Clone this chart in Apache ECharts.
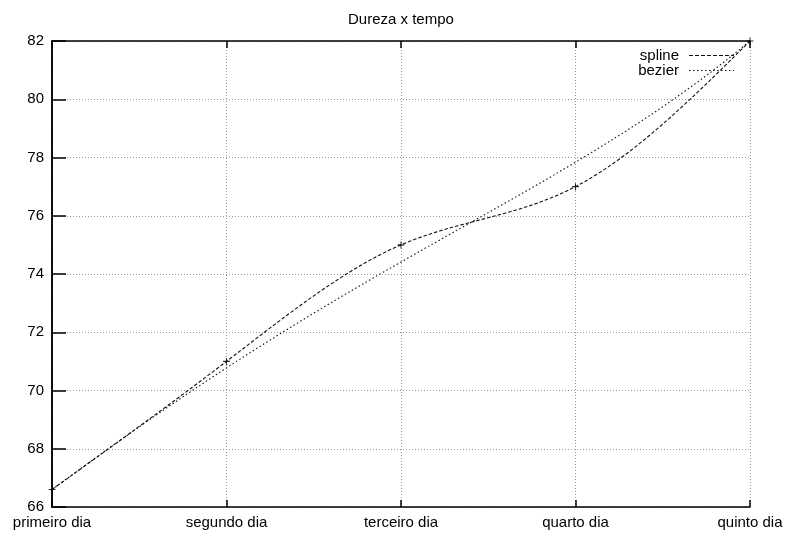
<!DOCTYPE html>
<html><head><meta charset="utf-8">
<script src="https://cdn.jsdelivr.net/npm/echarts@6/dist/echarts.min.js"></script>
<style>html,body{margin:0;padding:0;background:#fff}#c{width:786px;height:536px}</style>
</head><body><div id="c"></div>
<script>
// ---- data ----
const categories = ['primeiro dia', 'segundo dia', 'terceiro dia', 'quarto dia', 'quinto dia'];
const hardness = [66.6, 71, 75, 77, 82];
const seriesNames = ['spline', 'bezier'];
const titleText = 'Dureza x tempo';

const points = hardness.map((v, i) => [i, v]);
const FONT = "'Liberation Sans', Arial, sans-serif";
const INK = '#111';

// natural cubic spline second derivatives (unit spacing)
function splineM(ys) {
  const n = ys.length, M = new Array(n).fill(0);
  if (n < 3) return M;
  const a = [], b = [], c = [], d = [];
  for (let i = 1; i < n - 1; i++) { a.push(1); b.push(4); c.push(1); d.push(6 * (ys[i + 1] - 2 * ys[i] + ys[i - 1])); }
  const m = d.length;
  for (let i = 1; i < m; i++) { const w = a[i] / b[i - 1]; b[i] -= w * c[i - 1]; d[i] -= w * d[i - 1]; }
  const x = new Array(m);
  x[m - 1] = d[m - 1] / b[m - 1];
  for (let i = m - 2; i >= 0; i--) x[i] = (d[i] - c[i] * x[i + 1]) / b[i];
  for (let i = 0; i < m; i++) M[i + 1] = x[i];
  return M;
}
function splinePath(api) {
  const ys = hardness, M = splineM(ys), pts = [];
  const steps = 40;
  for (let i = 0; i < ys.length - 1; i++) {
    for (let s = 0; s <= steps; s++) {
      if (i > 0 && s === 0) continue;
      const t = s / steps, u = 1 - t;
      const y = u * ys[i] + t * ys[i + 1] + (u * u * u - u) * M[i] / 6 + (t * t * t - t) * M[i + 1] / 6;
      pts.push(api.coord([i + t, y]));
    }
  }
  return pts;
}
function bezierPath(api) {
  const ctrl = hardness.map((v, i) => api.coord([i, v]));
  const pts = [], steps = 200;
  for (let s = 0; s <= steps; s++) {
    const t = s / steps;
    let q = ctrl.map(p => p.slice());
    while (q.length > 1) {
      const nq = [];
      for (let k = 0; k < q.length - 1; k++) nq.push([q[k][0] * (1 - t) + q[k + 1][0] * t, q[k][1] * (1 - t) + q[k + 1][1] * t]);
      q = nq;
    }
    pts.push(q[0]);
  }
  return pts;
}
function dashIcon(dash, gap, total, h) {
  let s = 'path://';
  for (let x = 0; x < total; x += dash + gap) {
    const w = Math.min(dash, total - x);
    s += 'M' + x + ',0h' + w + 'v' + h + 'h' + (-w) + 'z';
  }
  return s;
}

const TICK_LEN = 7;
const frame = { show: true, lineStyle: { color: '#000', width: 1.5 } };
const noTick = { show: false };
const tickOut = { show: true, inside: false, length: TICK_LEN, lineStyle: { color: '#000', width: 1.5 } };
const grid = { show: true, lineStyle: { color: '#999', width: 1, type: [1, 2] } };
const noLabel = { show: false };
const noSplit = { show: false };

const xRange = { type: 'value', min: 0, max: categories.length - 1, interval: 1 };
const yRange = { type: 'value', min: 66, max: 82, interval: 2 };
// tick-only helper axes shifted into the plot so that their outward ticks point inward
const tickAxis = (base, position) => Object.assign({}, base, {
  position, offset: -TICK_LEN, axisLine: { show: false }, axisTick: tickOut,
  axisLabel: noLabel, splitLine: noSplit
});

const chart = echarts.init(document.getElementById('c'));
chart.setOption({
  animation: false,
  backgroundColor: '#fff',
  textStyle: { fontFamily: FONT },
  title: {
    text: titleText, left: 343, top: 7,
    textStyle: { fontSize: 15, fontWeight: 'normal', color: '#000', fontFamily: FONT }
  },
  legend: {
    orient: 'vertical', right: 47, top: 43, align: 'right',
    itemWidth: 45, itemHeight: 1, itemGap: 0,
    selectedMode: false,
    textStyle: { fontSize: 15, color: '#000', fontFamily: FONT, lineHeight: 15, padding: [0, 5, 0, 0] },
    data: [
      { name: seriesNames[0], icon: dashIcon(4, 2, 45, 1), itemStyle: { color: INK, borderWidth: 0 } },
      { name: seriesNames[1], icon: dashIcon(1.5, 2.5, 45, 1), itemStyle: { color: INK, borderWidth: 0 } }
    ]
  },
  grid: { left: 52, right: 36, top: 41, bottom: 29, containLabel: false },
  xAxis: [
    Object.assign({}, xRange, {
      position: 'bottom', axisLine: frame, axisTick: noTick, splitLine: grid,
      axisLabel: { margin: 8, fontSize: 15, color: '#000', fontFamily: FONT, formatter: v => categories[v] || '' }
    }),
    Object.assign({}, xRange, { position: 'top', axisLine: frame, axisTick: noTick, splitLine: noSplit, axisLabel: noLabel }),
    tickAxis(xRange, 'bottom'),
    tickAxis(xRange, 'top')
  ],
  yAxis: [
    Object.assign({}, yRange, {
      position: 'left', axisLine: frame, axisTick: noTick, splitLine: grid,
      axisLabel: { margin: 8, fontSize: 15, color: '#000', fontFamily: FONT }
    }),
    Object.assign({}, yRange, { position: 'right', axisLine: frame, axisTick: noTick, splitLine: noSplit, axisLabel: noLabel }),
    tickAxis(yRange, 'left'),
    tickAxis(yRange, 'right')
  ],
  series: [
    {
      name: seriesNames[0], type: 'custom', xAxisIndex: 0, yAxisIndex: 0, data: points, z: 3,
      itemStyle: { color: INK },
      renderItem: (params, api) => params.dataIndex !== 0 ? null : {
        type: 'polyline', shape: { points: splinePath(api) },
        style: { stroke: INK, fill: null, lineWidth: 1.1, lineDash: [3.5, 2] }
      }
    },
    {
      name: seriesNames[1], type: 'custom', xAxisIndex: 0, yAxisIndex: 0, data: points, z: 3,
      itemStyle: { color: INK },
      renderItem: (params, api) => params.dataIndex !== 0 ? null : {
        type: 'polyline', shape: { points: bezierPath(api) },
        style: { stroke: INK, fill: null, lineWidth: 1.1, lineDash: [1.5, 2.5] }
      }
    },
    {
      name: 'pontos', type: 'scatter', xAxisIndex: 0, yAxisIndex: 0, data: points, z: 4,
      symbol: 'path://M3.4,0H4.6V3.4H8V4.6H4.6V8H3.4V4.6H0V3.4H3.4Z', symbolSize: 7,
      itemStyle: { color: '#000' }, clip: false, silent: true
    }
  ]
});
</script></body></html>
